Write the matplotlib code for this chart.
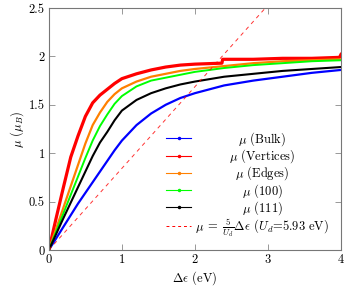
import matplotlib
matplotlib.use("Agg")
import matplotlib.pyplot as plt
from matplotlib.lines import Line2D
from matplotlib.ticker import FuncFormatter

# ---- data ----
x_pts = [0, 0.1, 0.2, 0.3, 0.4, 0.5, 0.6, 0.7, 0.8, 0.9, 1.0,
         1.2, 1.4, 1.6, 1.8, 2.0, 2.4, 2.8, 3.2, 3.6, 4.0]
mu_bulk = [0, 0.12, 0.24, 0.36, 0.48, 0.59, 0.70, 0.81, 0.92, 1.03, 1.13,
           1.29, 1.41, 1.50, 1.57, 1.62, 1.70, 1.75, 1.79, 1.83, 1.86]
mu_edges = [0, 0.22, 0.44, 0.66, 0.88, 1.10, 1.29, 1.42, 1.53, 1.61, 1.67,
            1.74, 1.79, 1.82, 1.85, 1.87, 1.90, 1.93, 1.95, 1.96, 1.97]
mu_100 = [0, 0.19, 0.38, 0.57, 0.76, 0.95, 1.13, 1.28, 1.40, 1.51, 1.59,
          1.69, 1.75, 1.78, 1.81, 1.84, 1.88, 1.91, 1.93, 1.95, 1.96]
mu_111 = [0, 0.165, 0.33, 0.49, 0.65, 0.81, 0.97, 1.11, 1.22, 1.34, 1.44,
          1.55, 1.62, 1.67, 1.71, 1.74, 1.79, 1.82, 1.85, 1.87, 1.89]

x_vert = [0, 0.1, 0.2, 0.3, 0.4, 0.5, 0.6, 0.7, 0.8, 0.9, 1.0,
          1.2, 1.4, 1.6, 1.8, 2.0, 2.37, 2.38, 2.8, 3.2, 3.6, 3.98, 4.0]
mu_vert = [0, 0.33, 0.65, 0.96, 1.18, 1.38, 1.52, 1.60, 1.66, 1.72, 1.77,
           1.82, 1.86, 1.89, 1.91, 1.92, 1.93, 1.97, 1.97, 1.98, 1.98, 1.99, 2.02]

# reference line mu = 5/Ud * d_eps, Ud = 5.93 eV
dash_x = [0.0, 4.0]
dash_y = [0.0, 3.373]

labels = [r"$\mu$ (Bulk)", r"$\mu$ (Vertices)", r"$\mu$ (Edges)",
          r"$\mu$ (100)", r"$\mu$ (111)",
          r"$\mu\;=\;\frac{5}{U_d}\Delta\epsilon$ ($U_d$=5.93 eV)"]

plt.rcParams["font.family"] = ["cmr10", "DejaVu Serif"]
plt.rcParams["mathtext.fontset"] = "cm"
plt.rcParams["axes.formatter.use_mathtext"] = True
plt.rcParams["font.size"] = 9

fig = plt.figure(figsize=(3.49, 2.91), dpi=100)
ax = fig.add_axes([0.140, 0.141, 0.837, 0.8315])

series = [
    (x_pts, mu_bulk, "#0000ff", 1.6),
    (x_vert, mu_vert, "#ff0000", 2.3),
    (x_pts, mu_edges, "#ff8000", 1.6),
    (x_pts, mu_100, "#00ff00", 1.4),
    (x_pts, mu_111, "#000000", 1.5),
]
for xs, ys, c, lw in series:
    ax.plot(xs, ys, color=c, lw=lw)
ax.plot(dash_x, dash_y, color="#ff0000", lw=0.7, dashes=(4, 4), alpha=0.8)

ax.set_xlim(0, 4)
ax.set_ylim(0, 2.5)
ax.set_xticks([0, 1, 2, 3, 4])
ax.set_yticks([0, 0.5, 1, 1.5, 2, 2.5])
fmt = FuncFormatter(lambda v, p: f"{v:g}")
ax.xaxis.set_major_formatter(fmt)
ax.yaxis.set_major_formatter(fmt)
ax.tick_params(direction="in", top=True, right=True, length=4, width=0.6,
               color="#888888", pad=3)
for s in ax.spines.values():
    s.set_color("#777777")
    s.set_linewidth(0.8)

ax.set_xlabel(r"$\Delta\epsilon$ (eV)", labelpad=2)
ax.set_ylabel(r"$\mu$ ($\mu_B$)", labelpad=2)

# ---- legend ----
handles = [Line2D([], [], color=c, lw=0.8, marker=".", ms=3)
           for _, _, c, _ in series]
handles.append(Line2D([], [], color="#ff0000", lw=0.7, dashes=(3, 3)))
leg = ax.legend(handles, labels, loc="lower right", bbox_to_anchor=(0.989, 0.01),
                frameon=False, handlelength=2.0, handletextpad=0.3,
                labelspacing=-0.05, borderpad=0.2, fontsize=9)

# centre the legend labels like pgfplots does
fig.canvas.draw()
r = fig.canvas.get_renderer()
texts = leg.get_texts()
widths = [t.get_window_extent(r).width for t in texts]
wmax = max(widths)
for t, w in zip(texts, widths):
    t.set_x((wmax - w) / 2)

fig.savefig("out.png", dpi=100)
